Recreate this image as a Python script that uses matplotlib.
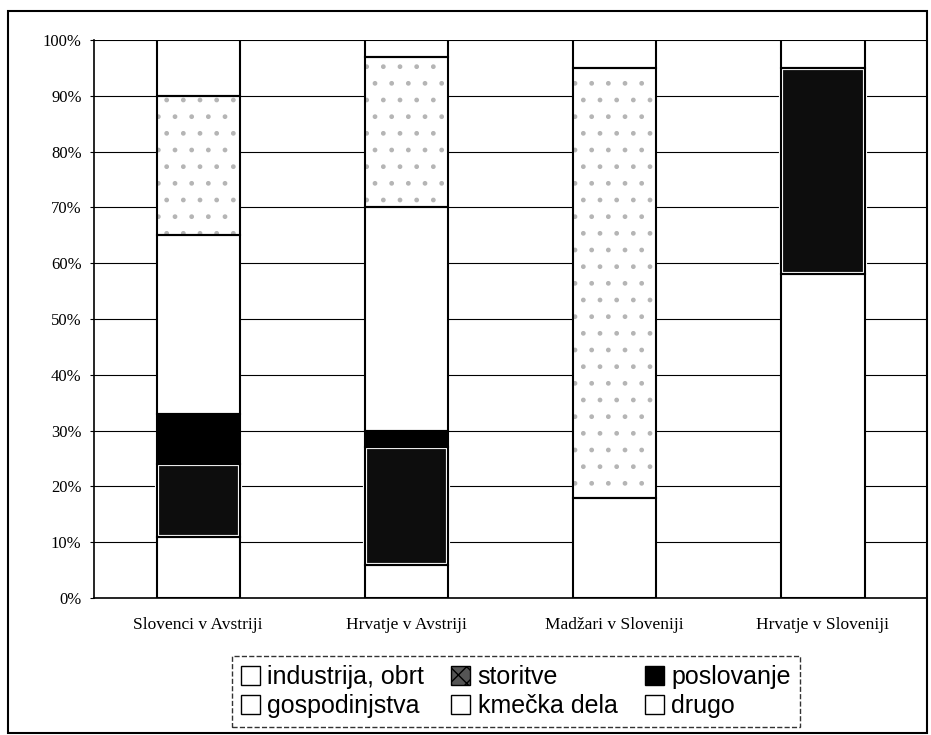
import matplotlib.pyplot as plt
from matplotlib.patches import Patch, Rectangle
import numpy as np

# employment structure by minority group, in percent of each group
groups = ["Slovenci v Avstriji", "Hrvatje v Avstriji", "Madžari v Sloveniji", "Hrvatje v Sloveniji"]
industrija = [11, 6, 18, 58]
storitve = [13, 21, 0, 37]
poslovanje = [9, 3, 0, 0]
gospodinjstva = [32, 40, 0, 0]
kmecka_dela = [25, 27, 77, 0]
drugo = [10, 3, 5, 5]

labels = ["industrija, obrt", "storitve", "poslovanje",
          "gospodinjstva", "kmečka dela", "drugo"]
series = [industrija, storitve, poslovanje, gospodinjstva, kmecka_dela, drugo]

fig = plt.figure(figsize=(9.31, 7.35), dpi=100)
ax = fig.add_axes([0.101, 0.1864, 0.8947, 0.7592])

x = np.arange(len(groups))
width = 0.4
bottom = np.zeros(len(groups))

for name, vals in zip(labels, series):
    vals = np.array(vals, dtype=float)
    if name == "storitve":
        ax.bar(x, vals, width, bottom=bottom, color="#0d0d0d",
               edgecolor="white", linewidth=3, zorder=2)
    elif name == "kmečka dela":
        ax.bar(x, vals, width, bottom=bottom, color="white",
               edgecolor="#b5b5b5", hatch=".", linewidth=0, zorder=2)
    elif name == "poslovanje":
        ax.bar(x, vals, width, bottom=bottom, color="black",
               linewidth=0, zorder=2)
    else:
        ax.bar(x, vals, width, bottom=bottom, color="white",
               linewidth=0, zorder=2)
    # black outline on every non-empty segment
    ax.bar(x[vals > 0], vals[vals > 0], width, bottom=bottom[vals > 0],
           fill=False, edgecolor="black", linewidth=1.5, zorder=3)
    bottom += vals

ax.set_xlim(-0.5, len(groups) - 0.5)
ax.set_ylim(0, 100)
ax.set_yticks(np.arange(0, 101, 10))
ax.set_yticklabels([f"{v}%" for v in range(0, 101, 10)],
                   fontfamily="Liberation Serif", fontsize=12)
ax.set_xticks(x)
ax.set_xticklabels(groups, fontfamily="Liberation Serif", fontsize=12.5)
ax.tick_params(axis="x", length=0, pad=14)
ax.tick_params(axis="y", length=3, width=0.8, pad=6)

ax.yaxis.grid(True, color="black", linewidth=0.8)
ax.set_axisbelow(True)
ax.spines["top"].set_visible(False)
ax.spines["right"].set_visible(False)
ax.spines["left"].set_linewidth(1.2)
ax.spines["bottom"].set_linewidth(1.2)

# outer frame around the whole chart
fig.patches.append(Rectangle((8 / 931, 2 / 735), 919 / 931, 722 / 735,
                             transform=fig.transFigure, fill=False,
                             edgecolor="black", linewidth=1.5))

handles = [
    Patch(facecolor="white", edgecolor="black", label=labels[0]),
    Patch(facecolor="white", edgecolor="black", label=labels[3]),
    Patch(facecolor="#555555", edgecolor="black", hatch="xx", label=labels[1]),
    Patch(facecolor="white", edgecolor="black", label=labels[4]),
    Patch(facecolor="black", edgecolor="black", label=labels[2]),
    Patch(facecolor="white", edgecolor="black", label=labels[5]),
]
leg = fig.legend(handles=handles, ncol=3, loc="center",
                 bbox_to_anchor=(0.554, 0.059), frameon=True,
                 prop={"family": "Liberation Sans", "size": 18},
                 handlelength=0.75, handleheight=0.75, handletextpad=0.3,
                 columnspacing=1.1, labelspacing=0.2, borderpad=0.35,
                 fancybox=False)
leg.get_frame().set_edgecolor("black")
leg.get_frame().set_linestyle("--")
leg.get_frame().set_linewidth(1.0)

fig.savefig("out.png", dpi=100)
